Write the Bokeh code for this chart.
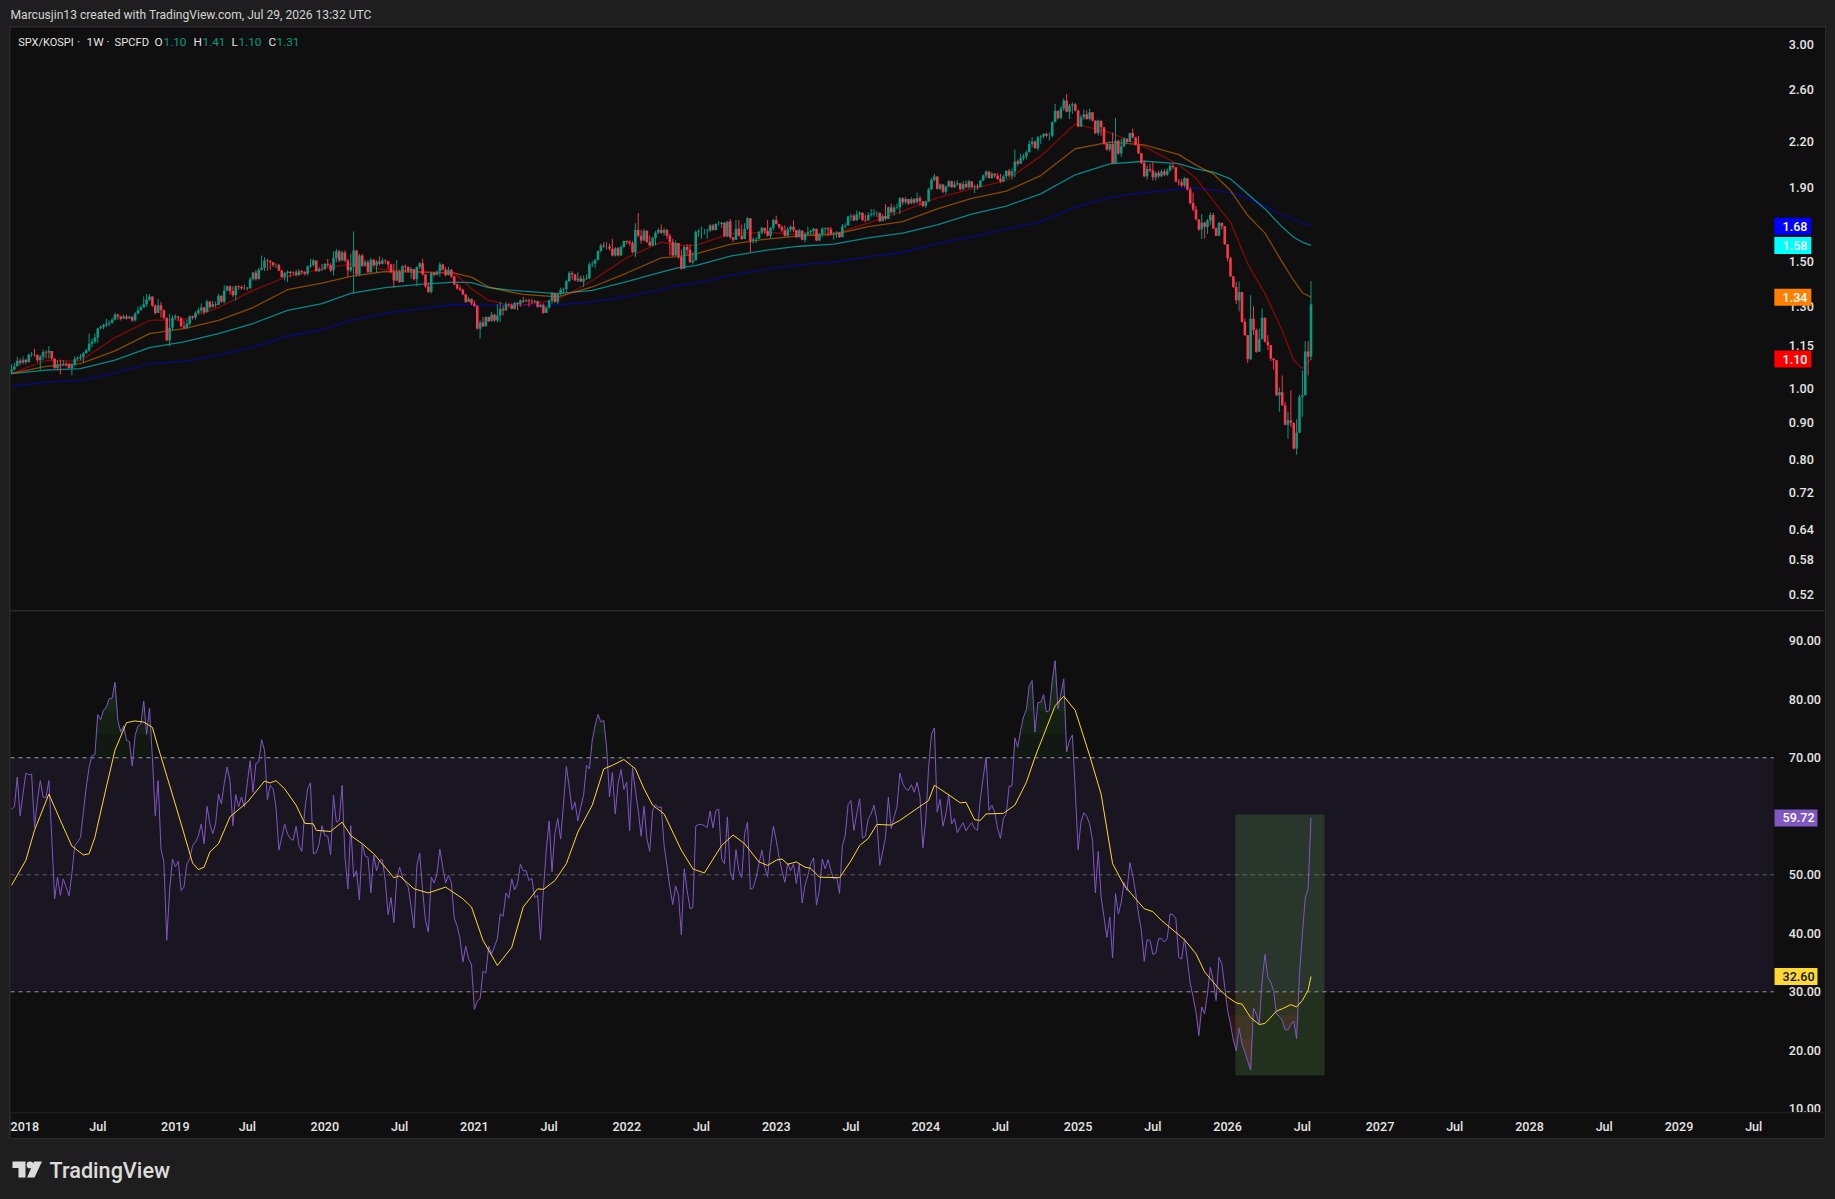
from bokeh.plotting import figure
from bokeh.layouts import column
from bokeh.models import Range1d, FixedTicker, PrintfTickFormatter, Label, BoxAnnotation
from bokeh.embed import file_html
from bokeh.resources import INLINE

FONT = "Roboto"
FONT_MED = "Roboto Medium"
PAGE_BG = "#1e1e1e"
PANE_BG = "#0f0f0f"
RULE = "#2b2b2b"
TEXT = "#e2e2e2"
UP = "#089981"
DOWN = "#f7374a"

first_open = 1.05
closes = [1.064,1.075,1.094,1.087,1.098,1.090,1.114,1.116,1.115,1.096,1.108,1.124,1.122,1.129,1.102,1.069,1.082,1.080,1.084,1.083,1.069,1.080,1.100,1.104,1.108,1.121,1.131,1.155,1.162,1.178,1.213,1.218,1.226,1.231,1.235,1.247,1.268,1.260,1.251,1.260,1.252,1.259,1.244,1.271,1.285,1.296,1.310,1.329,1.343,1.304,1.274,1.306,1.285,1.255,1.168,1.215,1.255,1.260,1.255,1.221,1.215,1.231,1.260,1.255,1.274,1.285,1.296,1.277,1.321,1.299,1.310,1.307,1.346,1.320,1.369,1.387,1.366,1.348,1.387,1.384,1.378,1.381,1.378,1.419,1.449,1.419,1.462,1.471,1.506,1.503,1.498,1.484,1.485,1.459,1.428,1.447,1.453,1.447,1.450,1.438,1.456,1.451,1.444,1.478,1.484,1.506,1.456,1.466,1.465,1.490,1.484,1.459,1.518,1.551,1.506,1.545,1.506,1.459,
1.475,1.555,1.441,1.530,1.482,1.498,1.451,1.509,1.482,1.501,1.490,1.506,1.503,1.487,1.451,1.413,1.451,1.406,1.479,1.475,1.456,1.466,1.419,1.475,1.493,1.441,1.387,1.362,1.447,1.438,1.454,1.487,1.463,1.438,1.462,1.431,1.396,1.378,1.372,1.352,1.320,1.333,1.313,1.302,1.212,1.236,1.221,1.258,1.241,1.267,1.244,1.264,1.291,1.285,1.309,1.306,1.291,1.315,1.310,1.326,1.321,1.326,1.322,1.320,1.324,1.299,1.307,1.274,1.296,1.326,1.358,1.320,1.355,1.372,1.375,1.410,1.447,1.441,1.413,1.422,1.408,1.421,1.424,1.487,1.490,1.509,1.552,1.580,1.575,1.575,1.563,1.530,1.566,1.530,1.572,1.602,1.597,1.592,1.546,1.660,1.630,1.605,1.654,1.597,1.580,1.618,1.645,1.660,1.645,1.660,1.630,1.597,1.530,
1.592,1.523,1.467,1.572,1.558,1.498,1.506,1.650,1.654,1.654,1.654,1.657,1.684,1.660,1.692,1.692,1.698,1.627,1.705,1.622,1.609,1.666,1.630,1.613,1.666,1.723,1.602,1.611,1.613,1.648,1.671,1.654,1.629,1.671,1.714,1.692,1.675,1.657,1.630,1.664,1.675,1.660,1.622,1.657,1.609,1.639,1.648,1.654,1.666,1.605,1.639,1.666,1.671,1.664,1.639,1.643,1.646,1.622,1.678,1.684,1.732,1.737,1.711,1.743,1.754,1.714,1.711,1.741,1.746,1.750,1.752,1.707,1.735,1.719,1.785,1.756,1.781,1.785,1.836,1.813,1.832,1.806,1.830,1.813,1.838,1.819,1.791,1.817,1.890,1.947,1.968,1.892,1.918,1.875,1.906,1.939,1.902,1.918,1.926,1.890,1.922,1.902,1.939,1.902,1.908,1.902,1.943,1.974,1.999,1.959,1.985,1.974,1.953,
1.937,1.970,2.004,1.974,2.000,2.064,2.049,2.086,2.100,2.126,2.182,2.200,2.154,2.230,2.237,2.253,2.241,2.241,2.340,2.426,2.369,2.445,2.507,2.420,2.467,2.477,2.428,2.308,2.377,2.400,2.364,2.415,2.352,2.258,2.350,2.303,2.184,2.145,2.182,2.053,2.205,2.118,2.167,2.219,2.196,2.260,2.230,2.177,2.120,2.055,1.970,2.016,2.006,1.964,1.991,1.970,2.000,1.979,2.006,2.037,2.027,1.937,1.933,1.912,1.957,1.888,1.809,1.772,1.716,1.662,1.698,1.675,1.711,1.741,1.669,1.630,1.698,1.680,1.586,1.517,1.432,1.384,1.326,1.362,1.238,1.187,1.100,1.251,1.206,1.126,1.172,1.255,1.162,1.150,1.102,1.096,0.980,0.990,0.949,0.892,0.905,0.898,0.827,0.870,0.975,0.980,1.127,1.108,1.31]

highs = [1.082,1.087,1.108,1.102,1.110,1.100,1.120,1.125,1.136,1.110,1.114,1.134,1.131,1.146,1.129,1.102,1.096,1.098,1.096,1.090,1.087,1.084,1.110,1.110,1.118,1.125,1.137,1.193,1.174,1.193,1.215,1.224,1.231,1.251,1.244,1.255,1.275,1.271,1.263,1.268,1.268,1.264,1.260,1.278,1.301,1.306,1.343,1.354,1.354,1.343,1.310,1.333,1.320,1.288,1.255,1.271,1.264,1.268,1.263,1.255,1.244,1.247,1.264,1.264,1.281,1.296,1.313,1.299,1.329,1.320,1.324,1.321,1.354,1.348,1.391,1.391,1.391,1.387,1.391,1.391,1.391,1.396,1.384,1.428,1.451,1.462,1.471,1.530,1.522,1.514,1.509,1.493,1.493,1.490,1.462,1.451,1.459,1.456,1.456,1.462,1.465,1.462,1.456,1.482,1.514,1.514,1.506,1.475,1.490,1.493,1.514,1.493,1.551,1.563,1.558,1.555,1.555,1.514,
1.538,1.652,1.558,1.538,1.538,1.509,1.509,1.519,1.514,1.509,1.525,1.519,1.512,1.498,1.490,1.490,1.509,1.462,1.482,1.487,1.478,1.475,1.466,1.478,1.498,1.514,1.436,1.406,1.451,1.451,1.459,1.498,1.490,1.475,1.475,1.466,1.436,1.399,1.391,1.376,1.352,1.341,1.333,1.326,1.306,1.244,1.258,1.260,1.260,1.278,1.271,1.310,1.320,1.306,1.320,1.315,1.313,1.320,1.320,1.330,1.341,1.333,1.333,1.333,1.329,1.315,1.313,1.313,1.302,1.329,1.362,1.360,1.358,1.381,1.381,1.416,1.456,1.456,1.441,1.451,1.436,1.436,1.441,1.498,1.503,1.514,1.555,1.589,1.597,1.597,1.589,1.613,1.572,1.572,1.580,1.605,1.605,1.605,1.602,1.696,1.751,1.660,1.666,1.660,1.630,1.625,1.654,1.671,1.689,1.671,1.666,1.639,1.613,
1.605,1.563,1.558,1.580,1.585,1.585,1.546,1.657,1.666,1.678,1.666,1.666,1.692,1.692,1.696,1.707,1.702,1.702,1.707,1.719,1.622,1.714,1.714,1.689,1.696,1.729,1.692,1.622,1.622,1.654,1.675,1.660,1.714,1.675,1.719,1.737,1.692,1.684,1.684,1.675,1.684,1.711,1.657,1.666,1.657,1.648,1.678,1.660,1.671,1.643,1.643,1.675,1.671,1.671,1.675,1.650,1.654,1.648,1.692,1.696,1.737,1.746,1.746,1.766,1.762,1.750,1.743,1.756,1.775,1.775,1.762,1.756,1.746,1.802,1.789,1.806,1.795,1.806,1.842,1.842,1.845,1.832,1.842,1.838,1.870,1.851,1.819,1.823,1.898,1.959,1.985,1.968,1.926,1.922,1.912,1.947,1.943,1.939,1.943,1.918,1.939,1.943,1.947,1.939,1.918,1.922,1.947,1.981,2.006,1.996,1.996,1.989,1.989,
1.985,1.979,2.006,2.016,2.020,2.145,2.078,2.115,2.115,2.138,2.207,2.230,2.207,2.237,2.246,2.260,2.264,2.264,2.345,2.480,2.415,2.462,2.525,2.560,2.480,2.493,2.488,2.433,2.395,2.436,2.428,2.441,2.410,2.345,2.360,2.327,2.230,2.191,2.196,2.264,2.373,2.214,2.219,2.230,2.223,2.264,2.292,2.230,2.241,2.115,2.071,2.037,2.049,2.060,2.000,2.006,2.012,2.016,2.020,2.049,2.049,2.027,1.953,1.953,1.964,1.953,1.902,1.870,1.791,1.719,1.746,1.705,1.719,1.756,1.752,1.675,1.702,1.687,1.662,1.572,1.523,1.418,1.406,1.408,1.315,1.251,1.181,1.348,1.302,1.212,1.213,1.292,1.218,1.187,1.146,1.100,1.073,1.005,1.044,0.960,0.930,0.996,0.881,0.908,0.982,1.061,1.165,1.165,1.41]

lows = [1.047,1.061,1.080,1.078,1.082,1.082,1.087,1.108,1.108,1.089,1.064,1.096,1.102,1.102,1.096,1.065,1.061,1.047,1.075,1.073,1.067,1.045,1.075,1.094,1.096,1.088,1.122,1.125,1.143,1.155,1.160,1.210,1.210,1.218,1.221,1.231,1.244,1.247,1.244,1.255,1.247,1.254,1.239,1.241,1.271,1.285,1.296,1.299,1.324,1.299,1.268,1.274,1.255,1.249,1.164,1.146,1.205,1.247,1.241,1.218,1.210,1.210,1.224,1.247,1.247,1.268,1.274,1.268,1.291,1.291,1.296,1.296,1.307,1.316,1.313,1.366,1.352,1.341,1.326,1.372,1.372,1.372,1.369,1.376,1.413,1.413,1.419,1.459,1.456,1.456,1.462,1.475,1.471,1.456,1.425,1.413,1.406,1.428,1.436,1.431,1.434,1.441,1.436,1.436,1.471,1.478,1.451,1.451,1.456,1.462,1.475,1.451,1.436,1.498,1.498,1.503,1.498,1.428,
1.451,1.355,1.431,1.431,1.475,1.478,1.447,1.447,1.478,1.447,1.482,1.487,1.490,1.466,1.447,1.381,1.410,1.402,1.428,1.451,1.449,1.421,1.413,1.387,1.466,1.434,1.381,1.358,1.355,1.431,1.441,1.431,1.459,1.431,1.436,1.425,1.391,1.372,1.366,1.348,1.315,1.320,1.306,1.299,1.208,1.174,1.218,1.221,1.238,1.247,1.238,1.235,1.238,1.264,1.282,1.296,1.288,1.288,1.285,1.299,1.315,1.320,1.299,1.310,1.315,1.296,1.296,1.271,1.274,1.292,1.313,1.315,1.310,1.348,1.355,1.358,1.406,1.416,1.410,1.406,1.406,1.384,1.416,1.419,1.475,1.471,1.506,1.546,1.568,1.558,1.555,1.525,1.525,1.525,1.555,1.568,1.585,1.580,1.541,1.522,1.622,1.589,1.602,1.592,1.576,1.575,1.580,1.639,1.639,1.630,1.613,1.530,1.525,
1.538,1.514,1.462,1.475,1.535,1.493,1.487,1.538,1.625,1.613,1.636,1.613,1.648,1.657,1.657,1.684,1.671,1.622,1.622,1.613,1.597,1.627,1.625,1.609,1.657,1.660,1.546,1.589,1.592,1.613,1.639,1.639,1.625,1.613,1.657,1.689,1.666,1.648,1.625,1.622,1.648,1.648,1.618,1.630,1.605,1.595,1.630,1.636,1.636,1.602,1.602,1.622,1.636,1.630,1.636,1.609,1.618,1.618,1.622,1.671,1.684,1.707,1.707,1.719,1.719,1.707,1.702,1.711,1.732,1.732,1.729,1.703,1.711,1.711,1.719,1.750,1.737,1.775,1.746,1.798,1.802,1.798,1.802,1.802,1.806,1.795,1.785,1.781,1.813,1.886,1.939,1.886,1.886,1.866,1.859,1.902,1.898,1.898,1.912,1.882,1.886,1.896,1.894,1.898,1.866,1.886,1.902,1.939,1.959,1.955,1.953,1.959,1.947,
1.929,1.933,1.953,1.964,1.949,1.964,2.037,2.049,2.071,2.078,2.161,2.161,2.150,2.138,2.184,2.222,2.230,2.207,2.230,2.345,2.360,2.364,2.428,2.415,2.364,2.403,2.420,2.303,2.303,2.357,2.357,2.352,2.345,2.253,2.241,2.241,2.177,2.136,2.131,2.047,2.086,2.110,2.095,2.161,2.191,2.228,2.223,2.172,2.113,2.047,1.964,1.949,1.996,1.943,1.943,1.957,1.964,1.970,1.970,2.000,2.016,1.933,1.912,1.902,1.902,1.882,1.800,1.761,1.711,1.655,1.613,1.617,1.639,1.687,1.662,1.627,1.657,1.662,1.583,1.503,1.429,1.380,1.311,1.280,1.235,1.185,1.086,1.096,1.187,1.122,1.168,1.174,1.160,1.132,1.093,1.064,0.978,0.930,0.948,0.891,0.854,0.886,0.825,0.811,0.869,0.915,1.006,1.044,1.096]

ma_bars = [0,12,24,36,48,60,72,84,96,108,118,130,142,154,160,166,172,178,190,202,214,226,232,238,250,262,274,286,298,310,322,334,346,358,370,382,394,406,412,418,424,430,436,442,446,449,452]
ma_red = [1.051,1.095,1.093,1.178,1.244,1.247,1.296,1.369,1.431,1.466,1.490,1.463,1.454,1.447,1.376,1.326,1.309,1.306,1.329,1.413,1.519,1.597,1.580,1.580,1.639,1.648,1.636,1.639,1.696,1.762,1.838,1.892,1.943,2.100,2.327,2.264,2.165,2.043,1.957,1.823,1.702,1.490,1.355,1.205,1.096,1.067,1.100]
ma_orange = [1.051,1.075,1.084,1.129,1.193,1.212,1.244,1.296,1.372,1.401,1.432,1.454,1.451,1.447,1.428,1.384,1.366,1.352,1.341,1.384,1.447,1.519,1.525,1.538,1.585,1.611,1.629,1.636,1.678,1.705,1.775,1.836,1.878,1.974,2.150,2.196,2.177,2.110,2.041,1.985,1.882,1.738,1.643,1.498,1.413,1.359,1.34]
ma_teal = [1.050,1.062,1.067,1.096,1.141,1.162,1.193,1.232,1.285,1.313,1.356,1.381,1.396,1.406,1.403,1.381,1.372,1.366,1.355,1.369,1.408,1.451,1.472,1.482,1.527,1.555,1.576,1.587,1.618,1.643,1.687,1.746,1.791,1.862,1.979,2.049,2.066,2.051,2.016,1.996,1.953,1.862,1.775,1.675,1.622,1.597,1.58]
ma_blue = [1.009,1.022,1.028,1.053,1.084,1.092,1.114,1.144,1.183,1.208,1.244,1.272,1.292,1.309,1.307,1.307,1.307,1.307,1.307,1.320,1.343,1.372,1.391,1.401,1.436,1.463,1.485,1.498,1.523,1.546,1.589,1.625,1.666,1.705,1.785,1.842,1.870,1.892,1.896,1.884,1.870,1.836,1.791,1.741,1.716,1.698,1.68]

rsi = [61.2,61.6,66.7,60.1,63.8,67.4,67.1,67.2,58.1,62.7,66.1,63.3,63.2,66.1,56.4,45.9,49.6,46.5,49.3,47.9,46.4,50.2,55,55.6,56.4,60.7,65,68.4,70.4,70.5,77.4,76.5,78.1,78.7,80.1,80.2,82.9,76.4,74.4,75.5,73,72.8,68.6,73.8,75.4,75.8,79.7,74,78.5,70.1,60.1,66.1,54.4,52.2,38.8,47.3,52.7,51.4,52.3,47.3,47.9,51.9,52.7,55,55.6,56.6,58.7,55.3,61.7,58.7,57,58.7,63.8,62.1,65.6,68.4,66.1,58.4,63.7,61.6,63.3,61.6,65.6,69.5,64.1,69,69.3,73.1,71.3,62.8,65.3,64.7,61.6,54.2,56.4,58.7,57,56.2,55.9,58.3,55,54,61,64.7,65.7,53.6,53.8,55.3,58.4,56.7,56.6,53.4,63.6,59,59.3,65.3,53,47.6,58.4,49.6,50.7,45.7,55.3,53.2,53,46.9,53.3,50.7,52.5,52.6,49,43.2,46.1,41.8,49.3,51.3,49.6,48.7,47.9,44.5,40.9,51.6,53.7,47.3,42.2,40.2,49.6,48.6,50.2,54.4,51.3,48.6,49.9,48.7,42.6,41.3,39.1,
35.1,37.8,35.6,34.7,27,28.4,28.8,33.5,33.2,37.8,36.5,37.7,39.1,43.3,42.9,46.9,46,49.3,47.4,48.5,51.8,50.7,50.7,49,49.4,46.1,46.5,38.9,47.3,54.2,59.2,50.5,57,59.6,56.1,62.1,68.5,65,61.1,62.4,59.2,61.6,63.6,68.7,68.1,73,75.5,77.4,76.1,76.4,71.8,63.3,67.5,60.4,65.6,68,64.6,65.8,57.5,68.3,64.4,61,56.6,61.7,56.2,54,61,62,61.5,61.6,55,51.5,47.9,44.9,48.1,46.5,39.7,51,47.3,44.2,44.4,58.3,58.6,58.6,58.4,58.1,60.9,58,61,61.2,52.7,51.9,59.9,50.5,49.1,54.3,50.7,49.5,57,59,47.5,47.8,49.5,51.9,54.2,51.3,49.6,54.7,58.3,55.9,53,50.7,48.7,52,50.7,51.8,48.5,51.9,45.2,48.2,49.9,51.9,52.9,44.8,47.3,52.7,51,52.6,50.7,49.3,49.6,46.8,55,56.7,62,62.7,57.6,60.4,63,56.3,56.6,59.6,60.4,
61.9,59.3,51.6,53.9,56.4,63.3,57.9,59.9,61.6,67.4,65.6,64.7,64.4,65.4,64.1,65.8,63.3,54.6,59.3,68.4,74.1,75.1,60.7,62.9,58.3,60.4,63.7,58.7,59.6,57.2,58.1,58.9,57.5,58.3,58.9,57.9,57.6,63,66.7,70.1,61,61.9,60.7,57.9,56.2,59.6,60.4,65.1,65.2,73.4,71.8,74.7,77,78.2,82.3,83.2,74.4,79.4,79.5,80.8,77.8,78.1,83.2,86.6,78.4,80.9,83.5,71,73,73.9,64.4,54.3,59,60.6,60,58.7,55.9,46.9,54,46.2,42.8,39.3,42.8,35.8,46.8,43.3,45.3,48.7,47.3,52.1,49.9,47,43.3,40.5,35.2,38.9,38.8,36.4,36.6,39.1,39.1,38.5,39.1,43.3,43.2,42.5,35.9,35.6,39.1,35.4,
31.4,29.1,26.5,22.5,27.4,26.2,29.7,34.2,31.9,28.5,35.9,34.8,30.8,26.8,24.5,21.7,19.9,23.8,21.1,19.7,18.1,16.6,27.2,26.2,24.5,31.9,36.4,32.4,31.7,30.1,26.2,25.8,25.1,23.5,23.5,24.4,25,22,33,39.8,46,47.6,59.72]

rsi_ma_bars = [0,5,8,13,17,21,25,27,29,33,36,40,43,46,49,51,55,58,63,65,67,69,72,76,82,88,90,92,95,99,102,105,106,111,115,118,122,126,133,135,140,145,151,157,160,164,169,174,178,183,185,189,193,197,202,206,209,213,217,220,223,227,233,237,241,247,251,255,260,263,266,268,270,273,276,278,281,288,292,295,298,301,306,309,314,319,321,325,330,332,335,337,339,345,349,353,356,363,366,370,375,379,383,387,391,394,397,400,408,412,415,420,423,426,428,431,434,436,440,442,445,447,449,451,452]
rsi_ma = [48.2,52.5,57.6,63.8,59.3,54.9,53.4,53.6,56.4,65,71.3,76,76.3,76.1,75.2,71.8,65.3,60.4,52,50.9,51.3,53.9,55.3,59.9,62.4,66,65.7,66.1,64.7,61.9,58.8,58.7,57.6,57.4,59,56.7,55.3,53.6,49.5,49.8,47.6,46.9,47.9,45.9,44.5,38.8,34.5,37.6,44.5,47.6,47.5,49,51.9,57.3,61.9,68.1,68.7,69.7,68.1,64.7,61.9,60.4,54.2,51,50.3,55,56.8,55.3,52.2,51.6,52.5,52.7,51.8,52.2,51.3,51.1,49.6,49.5,52.4,55,56.2,58.6,58.5,59.3,61,62.7,65.3,64,62.3,62.4,59.4,59.3,60.4,60.5,61.9,65.8,70.1,78.9,80.5,78.1,70.4,63.8,51.9,48.2,45.9,44.2,43.7,42.2,38.9,36.5,33.4,30.5,29.1,28.1,27.9,25.6,24.4,24.6,26.7,27.1,27.8,27.4,28.5,30.3,32.6]

price_ticks = [3.00,2.60,2.20,1.90,1.50,1.30,1.15,1.00,0.90,0.80,0.72,0.64,0.58,0.52]
rsi_ticks = [90,80,70,50,40,30,20,10]
time_labels = ["2018","Jul","2019","Jul","2020","Jul","2021","Jul","2022","Jul","2023","Jul","2024","Jul","2025","Jul","2026","Jul","2027","Jul","2028","Jul","2029","Jul"]
time_bars = [3,30,57,82,109,135,161,187,214,240,266,292,318,344,371,397,423,449,476,502,528,554,580,606]
box_bars = (425.7, 456.7)
box_rsi = (15.7, 60.3)
price_tags = [(1.68,"1.68","#0000ff","#ffffff"),(1.58,"1.58","#00ffff","#ffffff"),(1.34,"1.34","#ff8000","#ffffff"),(1.10,"1.10","#ff0000","#ffffff")]
rsi_tags = [(59.72,"59.72","#7e57c2","#ffffff"),(32.60,"32.60","#fdd835","#131722")]

n = len(closes)
assert (n, len(highs), len(lows), len(rsi)) == (453, 453, 453, 453), (n, len(highs), len(lows), len(rsi))

bars = list(range(n))
opens = [first_open] + closes[:-1]
hi = [max(h, o, c) for h, o, c in zip(highs, opens, closes)]
lo = [min(l, o, c) for l, o, c in zip(lows, opens, closes)]
cols = [UP if c >= o else DOWN for o, c in zip(opens, closes)]

W = 1815
X_LEFT, X_RIGHT = -0.348, 630.96
AXIS_BAR = 613.0
x_range = Range1d(X_LEFT, X_RIGHT)
TAG_TEXT_X = 1772

def style(p):
    p.background_fill_color = PANE_BG
    p.border_fill_color = PANE_BG
    p.outline_line_color = None
    p.grid.visible = False

def style_y(ax, ticks):
    ax.fixed_location = AXIS_BAR
    ax.ticker = FixedTicker(ticks=ticks)
    ax.formatter = PrintfTickFormatter(format="%.2f")
    ax.major_tick_line_color = None
    ax.minor_tick_line_color = None
    ax.axis_line_color = None
    ax.major_label_text_color = TEXT
    ax.major_label_text_font = FONT_MED
    ax.major_label_text_font_size = "12.6px"
    ax.major_label_standoff = 9

def add_tags(p, tags, center_bar, tag_width):
    for v, t, bg, fg in tags:
        p.rect(x=[center_bar], y=[v], width=tag_width, height=17, width_units="screen", height_units="screen",
               fill_color=bg, line_color=None, level="annotation")
        p.add_layout(Label(x=TAG_TEXT_X, x_units="screen", y=v, y_units="data", text=t, text_color=fg, text_font=FONT_MED,
                           text_font_size="12.6px", text_baseline="middle", level="overlay"))

# ---- price pane
price = figure(width=W, height=583, x_range=x_range, y_range=Range1d(0.4937, 3.164), y_axis_type="log",
               y_axis_location="right", x_axis_location=None, toolbar_location=None, output_backend="svg",
               min_border_left=0, min_border_right=0, min_border_top=0, min_border_bottom=0,
               margin=(1, 1, 0, 1))
style(price)
style_y(price.yaxis[0], price_ticks)
for ys, c in ((ma_blue, "#0000ff"), (ma_teal, "#00ffff"), (ma_orange, "#ff8000"), (ma_red, "#ff0000")):
    price.line(ma_bars, ys, line_color=c, line_alpha=0.5, line_width=1.3)
price.segment(bars, lo, bars, hi, line_color=cols, line_width=1)
price.vbar(x=bars, width=0.9, bottom=opens, top=closes, fill_color=cols, line_color=None)

title_parts = [(7.7, "SPX/KOSPI", TEXT, "11px"), (66.5, "·", TEXT, "11.8px"), (76, "1W", TEXT, "11.8px"), (96, "·", TEXT, "11.8px"),
               (104, "SPCFD", TEXT, "11.2px"),
               (144, "O", TEXT, "11.8px"), (153, "1.10", UP, "11.8px"), (183, "H", TEXT, "11.8px"), (192, "1.41", UP, "11.8px"),
               (221, "L", TEXT, "11.8px"), (228, "1.10", UP, "11.8px"), (258, "C", TEXT, "11.8px"), (266, "1.31", UP, "11.8px")]
for x, t, c, fs in title_parts:
    price.add_layout(Label(x=x, y=568.3, x_units="screen", y_units="screen", text=t, text_color=c, text_font=FONT,
                           text_font_size=fs, text_baseline="middle"))
add_tags(price, price_tags, 619.6, 37)

# ---- RSI pane
rp = figure(width=W, height=501, x_range=x_range, y_range=Range1d(9.37, 95.0), y_axis_location="right",
            x_axis_location=None, toolbar_location=None, output_backend="svg",
            min_border_left=0, min_border_right=0, min_border_top=0, min_border_bottom=0,
            margin=(1, 1, 0, 1))
style(rp)
style_y(rp.yaxis[0], rsi_ticks)
rp.add_layout(BoxAnnotation(right=AXIS_BAR, bottom=30, top=70, fill_color="#7e57c2", fill_alpha=0.1, line_color=None, level="underlay"))
rp.quad(left=[box_bars[0]], right=[box_bars[1]], bottom=[box_rsi[0]], top=[box_rsi[1]],
        fill_color="#6ab758", fill_alpha=0.2, line_color=None)
for lvl in (70, 74, 78, 82, 86):
    rp.varea(x=bars, y1=[lvl] * n, y2=[max(r, lvl) for r in rsi], fill_color="#4caf50", fill_alpha=0.055)
for lvl in (30, 26, 22, 18):
    rp.varea(x=bars, y1=[min(r, lvl) for r in rsi], y2=[lvl] * n, fill_color="#ff5252", fill_alpha=0.07)
for lvl, a in ((70, 1.0), (50, 0.55), (30, 1.0)):
    rp.segment(x0=[X_LEFT], y0=[lvl], x1=[AXIS_BAR], y1=[lvl], line_color="#9a9ba3", line_alpha=a, line_dash="4 4", line_width=1)
rp.line(bars, rsi, line_color="#7e57c2", line_width=1)
rp.line(rsi_ma_bars, rsi_ma, line_color="#fdd835", line_width=1)
add_tags(rp, rsi_tags, 620.7, 43)

# ---- time axis strip
tp = figure(width=W, height=26, x_range=x_range, y_range=Range1d(0, 1), y_axis_location=None,
            toolbar_location=None, output_backend="svg",
            min_border_left=0, min_border_right=0, min_border_top=0, min_border_bottom=25,
            margin=(0, 1, 1, 1))
style(tp)
ax = tp.xaxis[0]
ax.ticker = FixedTicker(ticks=time_bars)
ax.major_label_overrides = dict(zip(time_bars, time_labels))
ax.major_tick_line_color = None
ax.minor_tick_line_color = None
ax.axis_line_color = None
ax.major_label_text_color = TEXT
ax.major_label_text_font = FONT_MED
ax.major_label_text_font_size = "12.6px"
ax.major_label_standoff = -1

frame = column(price, rp, tp, spacing=0, margin=(0, 0, 0, 1), styles={"background-color": RULE})

# ---- header and footer strips
head = figure(width=1819, height=18, x_range=Range1d(0, 1819), y_range=Range1d(18, 0), x_axis_location=None, y_axis_location=None,
              toolbar_location=None, output_backend="svg", min_border=0, margin=0,
              background_fill_color=PAGE_BG, border_fill_color=PAGE_BG, outline_line_color=None)
head.grid.visible = False
head.add_layout(Label(x=2, y=6, x_units="screen", y_units="data", text="Marcusjin13 created with TradingView.com, Jul 29, 2026 13:32 UTC",
                      text_color="#d4d4d4", text_font=FONT, text_font_size="12.1px", text_baseline="middle"))

foot = figure(width=1819, height=52, x_range=Range1d(0, 1819), y_range=Range1d(52, 0), x_axis_location=None, y_axis_location=None,
              toolbar_location=None, output_backend="svg", min_border=0, margin=0,
              background_fill_color=PAGE_BG, border_fill_color=PAGE_BG, outline_line_color=None)
foot.grid.visible = False
logo = "#dcdcdc"
foot.patch([4, 17, 17, 10, 10, 4], [22, 22, 38, 38, 28.5, 28.5], fill_color=logo, line_color=None)
foot.patch([33.5, 26, 18.5, 25.5], [22, 38, 38, 22], fill_color=logo, line_color=None)
foot.circle(x=[21.5], y=[25.4], radius=3.4, fill_color=logo, line_color=None)
foot.add_layout(Label(x=41, y=31, x_units="screen", y_units="data", text="TradingView", text_color=logo, text_font=FONT_MED,
                      text_font_size="21.6px", text_baseline="middle"))

root = column(head, frame, foot, spacing=0, margin=(8, 0, 0, 8))

html = file_html(root, INLINE)
html = html.replace("<head>", "<head><style>html,body{background:%s}</style>" % PAGE_BG, 1)
open("out.html", "w").write(html)
